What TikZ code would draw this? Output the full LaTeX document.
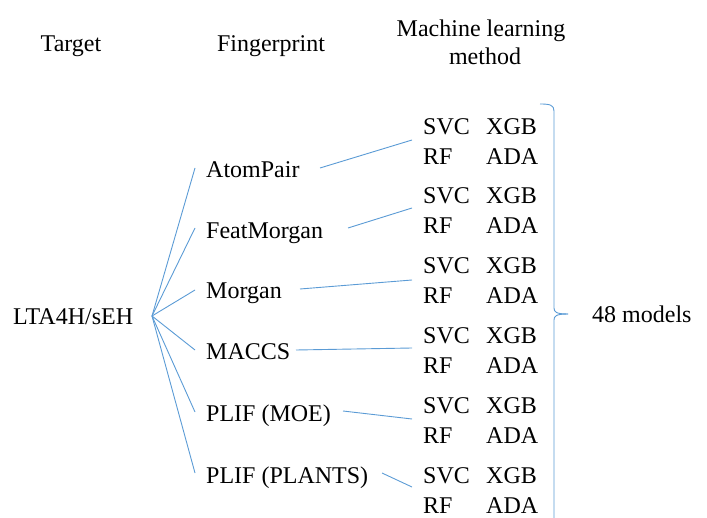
\documentclass[tikz,border=0pt]{standalone}
\usepackage{fontspec}
\setmainfont{Liberation Serif}
\begin{document}
\begin{tikzpicture}[x=1pt,y=-1pt,
  lbl/.style={anchor=base west,inner sep=0pt,font=\fontsize{24}{29}\selectfont},
  hdr/.style={anchor=base,inner sep=0pt,font=\fontsize{24}{29}\selectfont},
  conn/.style={draw=lineblue,line width=0.9pt}]
\definecolor{lineblue}{HTML}{5B9BD5}
\useasboundingbox (0,0) rectangle (707,518);
% headers
\node[hdr] (hT) at (71,52) {Target};
\node[hdr] (hF) at (271,52) {Fingerprint};
\node[hdr] (hM1) at (481,37) {Machine learning};
\node[hdr] (hM2) at (485,65) {method};
% target
\node[lbl] (tgt) at (13,325) {LTA4H/sEH};
\coordinate (o) at (152,316);
% fingerprints
\node[lbl] (f1) at (206,178) {AtomPair};
\node[lbl] (f2) at (206,239) {FeatMorgan};
\node[lbl] (f3) at (206,299) {Morgan};
\node[lbl] (f4) at (206,360) {MACCS};
\node[lbl] (f5) at (206,421) {PLIF (MOE)};
\node[lbl] (f6) at (206,483) {PLIF (PLANTS)};
% fan ends
\coordinate (e1) at (195,168);
\coordinate (e2) at (195,228);
\coordinate (e3) at (195,290);
\coordinate (e4) at (195,350);
\coordinate (e5) at (195,412);
\coordinate (e6) at (195,473);
\foreach \i in {1,...,6} {\draw[conn] (o) -- (e\i);}
% ML groups
\foreach \i/\b in {1/135,2/204,3/274,4/344,5/414,6/483} {
  \node[lbl] (svc\i) at (423,\b) {SVC};
  \node[lbl] (xgb\i) at (486,\b) {XGB};
  \node[lbl] (rf\i) at (423,\b+30) {RF};
  \node[lbl] (ada\i) at (486,\b+30) {ADA};
}
% connectors fingerprint -> methods
\coordinate (a1) at (320,168); \coordinate (b1) at (412,140);
\coordinate (a2) at (348,228); \coordinate (b2) at (412,208);
\coordinate (a3) at (300,289); \coordinate (b3) at (412,280);
\coordinate (a4) at (296,350); \coordinate (b4) at (412,348);
\coordinate (a5) at (343,411); \coordinate (b5) at (412,419);
\coordinate (a6) at (382,473); \coordinate (b6) at (412,487);
\foreach \i in {1,...,6} {\draw[conn] (a\i) -- (b\i);}
% brace
\coordinate (bt) at (540,104);
\coordinate (tip) at (568,314);
\coordinate (bb) at (554,522);
\draw[conn] (bt) .. controls (550,104) and (554,105) .. (554,111)
  -- (554,308) .. controls (554,312) and (556,314) .. (tip);
\draw[conn] (tip) .. controls (556,314) and (554,316) .. (554,320) -- (bb);
\node[lbl] (models) at (592,323) {48 models};
\end{tikzpicture}
\end{document}
